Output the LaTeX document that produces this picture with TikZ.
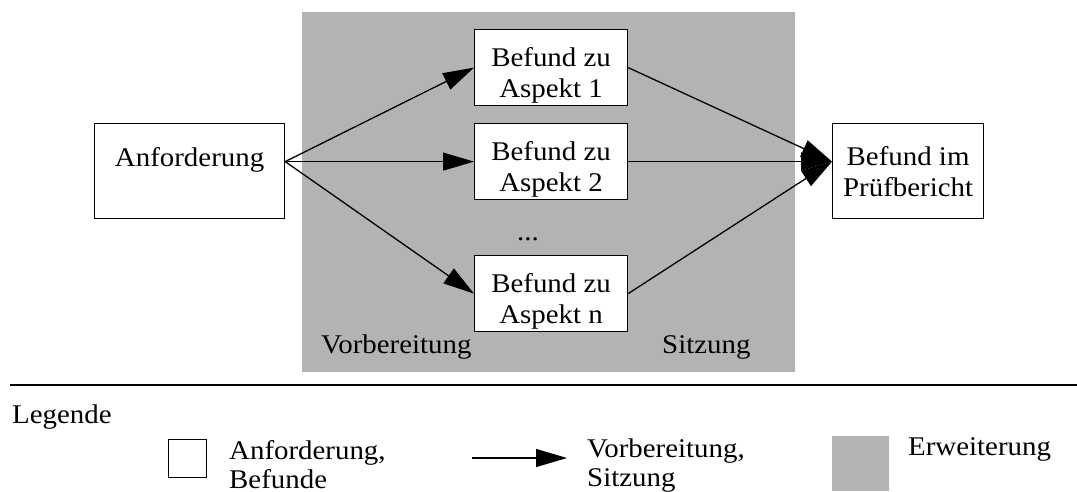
\documentclass[tikz,border=0pt]{standalone}
\usepackage{fontspec}
\setmainfont{Liberation Serif}[FakeStretch=1.07]
\usetikzlibrary{arrows.meta}
\definecolor{ext}{HTML}{B3B3B3}
\begin{document}
\begin{tikzpicture}[x=1pt,y=-1pt,
  every node/.style={font=\fontsize{27}{31}\selectfont},
  box/.style={draw=black,line width=1.2pt,fill=white,align=center,inner sep=0pt,anchor=north west},
  aspect/.style={box,minimum width=153pt,text height=68pt,text depth=8pt},
  flow/.style={line width=1.3pt,-{Triangle[length=31pt,width=18pt]}},
  lbl/.style={inner sep=0pt,align=left,anchor=base west,font=\fontsize{27}{29.5}\selectfont}]
\useasboundingbox (0,0) rectangle (1077,491);
% extension area
\fill[ext] (302,12) rectangle (795,372);
% boxes (base anchor = last line's baseline)
\node[box,minimum width=190pt,text height=43pt,text depth=52pt] (req) at (94,123) {Anforderung};
\node[aspect] (a1) at (474,29) {Befund zu\\Aspekt 1};
\node[aspect] (a2) at (474,123) {Befund zu\\Aspekt 2};
\node[aspect] (an) at (474,255) {Befund zu\\Aspekt n};
\node[inner sep=0pt,anchor=base] (dots) at (528,240) {...};
\node[box,minimum width=151pt,text height=73pt,text depth=22pt] (rep) at (832,123) {Befund im\\Prüfbericht};
\node[lbl] (prep) at (321,353) {Vorbereitung};
\node[lbl] (sess) at (662,353) {Sitzung};
% connectors
\coordinate (out) at (req.east |- a2.west);
\coordinate (in) at (rep.west |- a2.east);
\draw[flow] (out) -- (a1.west);
\draw[flow] (out) -- (a2.west);
\draw[flow] (out) -- (an.west);
\draw[flow] (a1.east) -- (in);
\draw[flow] (a2.east) -- (in);
\draw[flow] (an.east) -- (in);
% legend
\coordinate (sepL) at (10,385);
\coordinate (sepR) at (1077,385);
\draw[line width=1.3pt] (sepL) -- (sepR);
\node[lbl] (leg) at (12,423) {Legende};
\node[draw=black,line width=1.2pt,fill=white,minimum width=38pt,minimum height=38pt,inner sep=0pt,anchor=north west] (lbox) at (168,439) {};
\node[lbl] (lboxt) at (229,488.5) {Anforderung,\\Befunde};
\coordinate (larrS) at (472,458);
\coordinate (larrE) at (567,458);
\draw[flow] (larrS) -- (larrE);
\node[lbl] (larrt) at (587,486.5) {Vorbereitung,\\Sitzung};
\fill[ext] (832,436) rectangle (889,491);
\node[lbl] (lextt) at (908,455) {Erweiterung};
\end{tikzpicture}
\end{document}
